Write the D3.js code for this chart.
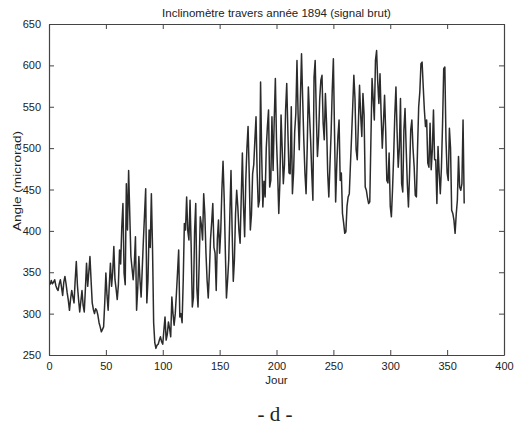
<!DOCTYPE html>
<html>
<head>
<meta charset="utf-8">
<script src="https://cdn.jsdelivr.net/npm/d3@7"></script>
<style>
  body { margin: 0; background: #ffffff; }
  text { font-family: "Liberation Sans", Arial, sans-serif; fill: #222; }
  .caption { font-family: "Liberation Serif", "Times New Roman", serif; }
</style>
</head>
<body>
<div id="chart"></div>
<script>
var angle = [
  335, 340, 336, 338, 341, 334, 330, 328, 336, 341,
  332, 322, 338, 345, 336, 325, 316, 304, 318, 328,
  320, 313, 340, 363, 334, 317, 302, 315, 328, 310,
  302, 330, 361, 333, 350, 369, 340, 313, 305, 300,
  306, 304, 298, 289, 284, 278, 281, 284, 313, 349,
  322, 304, 335, 361, 333, 350, 381, 341, 330, 317,
  335, 377, 360, 405, 433, 349, 335, 457, 401, 473,
  420, 369, 355, 341, 360, 393, 304, 330, 369, 340,
  320, 355, 389, 420, 451, 313, 340, 401, 380, 445,
  380, 289, 265, 258, 262, 263, 268, 272, 266, 263,
  280, 296, 268, 275, 290, 282, 272, 320, 300, 286,
  300, 324, 350, 377, 296, 300, 289, 340, 409, 401,
  441, 400, 389, 437, 380, 308, 320, 400, 433, 330,
  308, 360, 417, 407, 389, 445, 420, 373, 340, 319,
  350, 390, 410, 433, 380, 373, 328, 390, 413, 373,
  400, 450, 484, 440, 377, 319, 340, 365, 420, 473,
  400, 339, 365, 421, 449, 429, 400, 385, 440, 494,
  430, 393, 461, 500, 526, 470, 401, 420, 469, 480,
  510, 538, 470, 429, 437, 580, 490, 429, 460, 441,
  500, 526, 546, 453, 461, 538, 473, 534, 584, 510,
  470, 421, 460, 540, 500, 457, 480, 546, 578, 520,
  470, 469, 550, 445, 470, 520, 542, 606, 540, 498,
  560, 614, 560, 510, 470, 445, 500, 574, 540, 510,
  470, 437, 586, 606, 540, 490, 514, 560, 582, 588,
  530, 510, 566, 530, 470, 441, 480, 518, 570, 608,
  520, 435, 480, 514, 534, 461, 470, 421, 410, 397,
  399, 430, 441, 445, 480, 514, 550, 588, 560, 498,
  486, 530, 576, 540, 514, 566, 540, 453, 449, 440,
  433, 435, 510, 584, 560, 534, 606, 618, 580, 554,
  590, 540, 500, 530, 564, 520, 461, 458, 494, 430,
  417, 450, 490, 540, 574, 520, 477, 500, 560, 457,
  447, 522, 548, 500, 457, 429, 470, 522, 534, 500,
  478, 443, 441, 500, 550, 568, 602, 604, 574, 546,
  526, 534, 482, 477, 530, 474, 498, 546, 486, 486,
  433, 502, 470, 445, 477, 530, 596, 598, 510, 470,
  461, 524, 500, 425, 421, 413, 397, 420, 437, 490,
  453, 449, 457, 534, 433
];
var first_day = 1;

var x_ticks = [0, 50, 100, 150, 200, 250, 300, 350, 400];
var y_ticks = [250, 300, 350, 400, 450, 500, 550, 600, 650];

var title = "Inclinomètre travers année 1894 (signal brut)";
var x_label = "Jour";
var y_label = "Angle (microrad)";
var caption = "- d -";

var W = 519, H = 430;
var margin = {top: 24, right: 15, bottom: 75, left: 49};
var plot_width = W - margin.left - margin.right;
var plot_height = H - margin.top - margin.bottom;
var tick_len = 5;

var svg = d3.select("#chart")
  .append("svg")
    .attr("width", W)
    .attr("height", H);

svg.append("rect")
  .attr("width", W)
  .attr("height", H)
  .attr("fill", "#ffffff");

var g = svg.append("g")
  .attr("transform", "translate(" + margin.left + "," + margin.top + ")");

var xScale = d3.scaleLinear()
  .domain([0, 400])
  .range([0, plot_width]);

var yScale = d3.scaleLinear()
  .domain([250, 650])
  .range([plot_height, 0]);

// axes facon matlab : ticks vers l'interieur sur les 4 cotes
var xBottom = d3.axisBottom(xScale).tickValues(x_ticks).tickSizeInner(-tick_len).tickSizeOuter(0).tickPadding(7);
var xTop = d3.axisTop(xScale).tickValues(x_ticks).tickSizeInner(-tick_len).tickSizeOuter(0).tickFormat("");
var yLeft = d3.axisLeft(yScale).tickValues(y_ticks).tickSizeInner(-tick_len).tickSizeOuter(0).tickPadding(8);
var yRight = d3.axisRight(yScale).tickValues(y_ticks).tickSizeInner(-tick_len).tickSizeOuter(0).tickFormat("");

g.append("g")
  .attr("class", "axis")
  .attr("transform", "translate(0," + plot_height + ")")
  .call(xBottom);
g.append("g")
  .attr("class", "axis")
  .call(xTop);
g.append("g")
  .attr("class", "axis")
  .call(yLeft);
g.append("g")
  .attr("class", "axis")
  .attr("transform", "translate(" + plot_width + ",0)")
  .call(yRight);

g.selectAll(".axis path").attr("stroke", "#444").attr("stroke-width", 1.2);
g.selectAll(".axis line").attr("stroke", "#444").attr("stroke-width", 1);
g.selectAll(".axis text")
  .attr("font-family", "'Liberation Sans', Arial, sans-serif")
  .attr("font-size", 11)
  .attr("fill", "#222");

// signal
var line = d3.line()
  .x(function(d, i) { return xScale(first_day + i); })
  .y(function(d) { return yScale(d); });

g.append("path")
  .datum(angle)
  .attr("fill", "none")
  .attr("stroke", "#2b2b2b")
  .attr("stroke-width", 1.5)
  .attr("stroke-linejoin", "round")
  .attr("d", line);

// textes
svg.append("text")
  .attr("x", margin.left + plot_width / 2)
  .attr("y", 17)
  .attr("text-anchor", "middle")
  .attr("font-size", 11.5)
  .text(title);

svg.append("text")
  .attr("x", margin.left + plot_width / 2)
  .attr("y", 384)
  .attr("text-anchor", "middle")
  .attr("font-size", 11.5)
  .text(x_label);

svg.append("text")
  .attr("transform", "translate(21,181)rotate(-90)")
  .attr("text-anchor", "middle")
  .attr("font-size", 11.5)
  .attr("textLength", 100)
  .attr("lengthAdjust", "spacingAndGlyphs")
  .text(y_label);

svg.append("text")
  .attr("class", "caption")
  .attr("x", 275)
  .attr("y", 421)
  .attr("text-anchor", "middle")
  .attr("font-size", 21)
  .attr("fill", "#333")
  .text(caption);
</script>
</body>
</html>
